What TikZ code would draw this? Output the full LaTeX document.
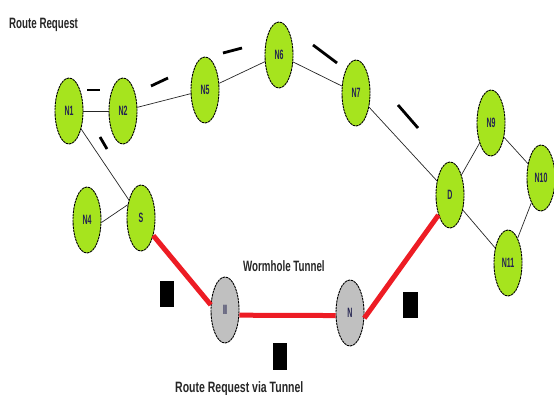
\documentclass[tikz,border=0pt]{standalone}
\usepackage{fontspec}
\setmainfont[FakeStretch=0.65]{Liberation Sans}
\newfontfamily\widecap[FakeStretch=0.7]{Liberation Sans}
\newfontfamily\nodefont[FakeStretch=0.52]{Liberation Sans}
\usetikzlibrary{shapes.geometric}
\definecolor{nodegreen}{RGB}{166,228,30}
\definecolor{nodegray}{RGB}{192,192,192}
\definecolor{tunnelred}{RGB}{237,28,36}
\definecolor{nodetext}{RGB}{35,35,80}
\tikzset{
  peer/.style={ellipse, draw=black, line width=0.9pt, dash pattern=on 2.5pt off 0.7pt,
    fill=nodegreen, minimum width=28pt, minimum height=66pt, inner sep=0pt,
    font=\nodefont\bfseries\fontsize{13.5}{14}\selectfont, text=nodetext},
  worm/.style={peer, fill=nodegray},
  link/.style={line width=0.7pt, black!85},
  tunnel/.style={line width=5pt, tunnelred},
  tick/.style={line width=2.8pt, black, line cap=butt},
  caption/.style={font=\bfseries\fontsize{15}{17}\selectfont, text=black!85, inner sep=0pt, anchor=base west},
  blockmark/.style={fill=black}
}
\begin{document}
\begin{tikzpicture}[x=1pt,y=-1pt]
\useasboundingbox (0,0) rectangle (554,394);
% nodes
\node[peer] (N1) at (69,111) {N1};
\node[peer] (N2) at (123,111) {N2};
\node[peer] (N5) at (205,90) {N5};
\node[peer] (N6) at (279,55) {N6};
\node[peer] (N7) at (356,93) {N7};
\node[peer] (N9) at (491,123) {N9};
\node[peer] (N10) at (541,178) {N10};
\node[peer] (D) at (450,195) {D};
\node[peer] (N11) at (508,263) {N11};
\node[peer] (N4) at (87,220) {N4};
\node[peer] (S) at (141,218) {S};
\node[worm] (II) at (225,310) {II};
\node[worm] (N) at (350,313) {N};
% thin links
\draw[link] (N1) -- (N2);
\draw[link] (N2) -- (N5);
\draw[link] (N5) -- (N6);
\draw[link] (N6) -- (N7);
\draw[link] (N7) -- (D);
\draw[link] (N1) -- (S);
\draw[link] (N4.-10) -- (S.135);
\draw[link] (D) -- (N9);
\draw[link] (N9) -- (N10);
\draw[link] (D) -- (N11);
\draw[link] (N11) -- (N10);
% tunnel
\draw[tunnel] (S.-55) -- (II.160);
\draw[tunnel] (II.-20) -- (N.190);
\draw[tunnel] (N.-20) -- (D.-120);
% route request ticks
\draw[tick] (87,90) -- (100,90);
\draw[tick] (151,86) -- (168,78);
\draw[tick] (223,53) -- (242,48);
\draw[tick] (313,45) -- (337,63);
\draw[tick] (398,105) -- (418,128);
\draw[tick] (100,137) -- (107,149);
% blocks
\fill[blockmark] (160,281) rectangle (174,307);
\fill[blockmark] (273,343) rectangle (287,370);
\fill[blockmark] (403,292) rectangle (418,318);
% captions
\node[caption] (t1) at (9,28) {Route Request};
\node[caption] (t2) at (243,271) {Wormhole Tunnel};
\node[caption, font=\widecap\bfseries\fontsize{15}{17}\selectfont] (t3) at (175,392) {Route Request via Tunnel};
\end{tikzpicture}
\end{document}
